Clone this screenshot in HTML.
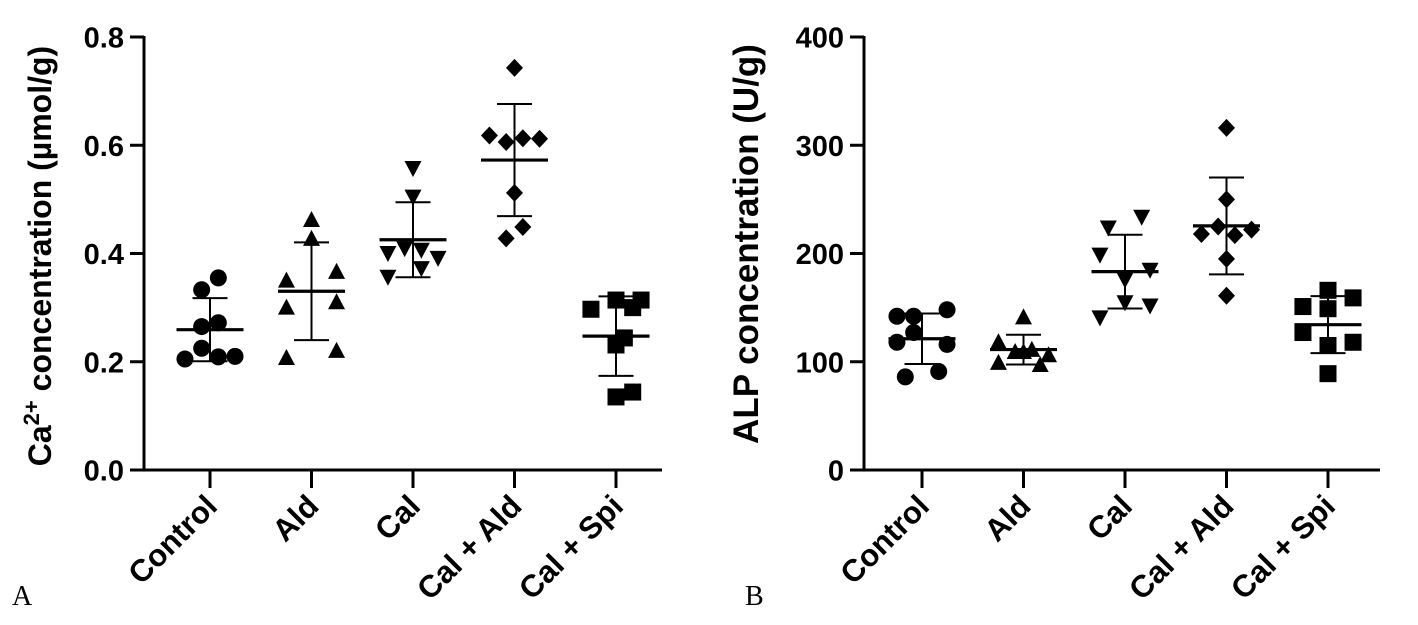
<!DOCTYPE html>
<html><head><meta charset="utf-8"><style>
html,body{margin:0;padding:0;background:#fff;}
svg{display:block;font-family:"Liberation Sans",Arial,sans-serif;}
</style></head><body>
<svg id="fig" width="1418" height="625" viewBox="0 0 1418 625"></svg>
<script>
const categories = ["Control","Ald","Cal","Cal + Ald","Cal + Spi"];
const shapes = ["circle","up","down","diamond","square"];
// Panel A: Ca2+ values (µmol/g) and jitter slot per point
const caValues = [
  [0.355,0.333,0.265,0.272,0.225,0.205,0.209,0.21],
  [0.462,0.427,0.35,0.366,0.30,0.31,0.207,0.22],
  [0.558,0.505,0.401,0.41,0.407,0.392,0.357,0.373],
  [0.743,0.618,0.606,0.613,0.612,0.512,0.449,0.428],
  [0.314,0.314,0.297,0.30,0.244,0.231,0.144,0.135]
];
const caJitter = [
  [0.5,-0.5,-0.5,0.5,-0.5,-1.5,0.5,1.5],
  [0,0,-1.5,1.5,-1.5,1.5,-1.5,1.5],
  [0,0,-1.5,-0.5,0.5,1.5,-1.5,0.5],
  [0,-1.5,-0.5,0.5,1.5,0,0.5,-0.5],
  [0,1.5,-1.5,1,0.5,0,1,0]
];
const caTicks = ["0.0","0.2","0.4","0.6","0.8"];
// Panel B: ALP values (U/g)
const alpValues = [
  [142,142,148,127,118,116,86,91],
  [141,118,109,109,111,106,99,97],
  [234,224,199,185,176,155,152,141],
  [316,250,225,218,217,222,195,161],
  [166,159,151,149,127,118,115,89]
];
const alpJitter = [
  [-1.5,-0.5,1.5,-0.5,-1.5,1.5,-1,1],
  [0,-1.5,-0.5,0,0.5,1.5,-1.5,1],
  [1,-1,-1.5,1.5,0,0,1.5,-1.5],
  [0,0,-0.5,-1.5,0.5,1.5,0,0],
  [0,1.5,-1.5,0,-1.5,1.5,0,0]
];
const alpTicks = ["0","100","200","300","400"];

const NS="http://www.w3.org/2000/svg";
const svg=document.getElementById('fig');
function mk(tag,attrs,parent){const e=document.createElementNS(NS,tag);for(const k in attrs)e.setAttribute(k,attrs[k]);(parent||svg).appendChild(e);return e;}

function panel(cfg){
  const g=mk('g',{});
  
  
  const y=v=>cfg.y0-(v-cfg.min)/(cfg.max-cfg.min)*(cfg.y0-cfg.y1);
  const x=i=>cfg.xs0+i*cfg.dx;
  const ya=mk('line',{x1:cfg.ax,y1:cfg.y1-1,x2:cfg.ax,y2:cfg.y0+1.5,stroke:'#000','stroke-width':3},g);
  
  
  const xa=mk('line',{x1:cfg.ax-1.5,y1:cfg.y0,x2:cfg.xend,y2:cfg.y0,stroke:'#000','stroke-width':3},g);
  
  
  cfg.ticks.forEach((t,i)=>{
    const v=cfg.min+i*(cfg.max-cfg.min)/(cfg.ticks.length-1);
    const yy=y(v);
    mk('line',{x1:cfg.ax-14,y1:yy,x2:cfg.ax,y2:yy,stroke:'#000','stroke-width':3},g);
    const tl=mk('text',{x:cfg.ax-20,y:yy+10.5,'text-anchor':'end','font-size':29,'font-weight':'bold'},g);
    tl.textContent=t;
    
    
  });
  const tt=mk('text',{x:0,y:0,'text-anchor':'middle','font-size':cfg.titleSize,'font-weight':'bold',transform:`translate(${cfg.titleX},${cfg.titleY}) rotate(-90)`},g);
  tt.innerHTML=cfg.title;
  
  
  categories.forEach((c,i)=>{
    const cx=x(i);
    mk('line',{x1:cx,y1:cfg.y0,x2:cx,y2:cfg.y0+18,stroke:'#000','stroke-width':3},g);
    const xl=mk('text',{x:0,y:0,'text-anchor':'end','font-size':31,'font-weight':'bold',transform:`translate(${cx+9},${cfg.y0+38}) rotate(-45)`},g);
    xl.textContent=c;
    
    
    const vals=cfg.values[i];
    const n=vals.length;
    const mean=vals.reduce((a,b)=>a+b,0)/n;
    const sd=Math.sqrt(vals.reduce((a,b)=>a+(b-mean)*(b-mean),0)/(n-1));
    const grp=mk('g',{},g);
    
    
    vals.forEach((v,j)=>{
      const px=cx+cfg.jitter[i][j]*16.7, py=y(v);
      let m;const s=shapes[i];
      if(s==='circle')m=mk('circle',{cx:px,cy:py,r:8.5,fill:'#000'},grp);
      else if(s==='up')m=mk('polygon',{points:`${px-8.5},${py+7} ${px+8.5},${py+7} ${px},${py-9}`,fill:'#000'},grp);
      else if(s==='down')m=mk('polygon',{points:`${px-8.5},${py-7} ${px+8.5},${py-7} ${px},${py+9}`,fill:'#000'},grp);
      else if(s==='diamond')m=mk('polygon',{points:`${px},${py-9} ${px+8.5},${py} ${px},${py+9} ${px-8.5},${py}`,fill:'#000'},grp);
      else m=mk('rect',{x:px-8.5,y:py-8.5,width:17,height:17,fill:'#000'},grp);
      
      
    });
    const eb=mk('g',{stroke:'#000'},grp);
    
    
    mk('line',{x1:cx,y1:y(mean+sd),x2:cx,y2:y(mean-sd),'stroke-width':2},eb);
    mk('line',{x1:cx-17.5,y1:y(mean+sd),x2:cx+17.5,y2:y(mean+sd),'stroke-width':2},eb);
    mk('line',{x1:cx-17.5,y1:y(mean-sd),x2:cx+17.5,y2:y(mean-sd),'stroke-width':2},eb);
    const ml=mk('line',{x1:cx-33.5,y1:y(mean),x2:cx+33.5,y2:y(mean),'stroke-width':3.2},eb);
    
    
  });
  const pl=mk('text',{x:cfg.labelX,y:605,'font-size':28,'font-family':'"Liberation Serif",serif'},g);
  pl.textContent=cfg.label;
  
  
}
panel({name:'panel-a-calcium',ax:144,y0:470,y1:37,min:0,max:0.8,xs0:210,dx:101.5,xend:662,ticks:caTicks,values:caValues,jitter:caJitter,
  title:'Ca<tspan font-size="22" dy="-12">2+</tspan><tspan dy="12"> concentration (µmol/g)</tspan>',titleSize:32,titleX:51,titleY:256,label:'A',labelX:12});
panel({name:'panel-b-alp',ax:864,y0:470,y1:37,min:0,max:400,xs0:922,dx:101.5,xend:1380,ticks:alpTicks,values:alpValues,jitter:alpJitter,
  title:'ALP concentration (U/g)',titleSize:35,titleX:758,titleY:244,label:'B',labelX:745});
</script>
</body></html>
